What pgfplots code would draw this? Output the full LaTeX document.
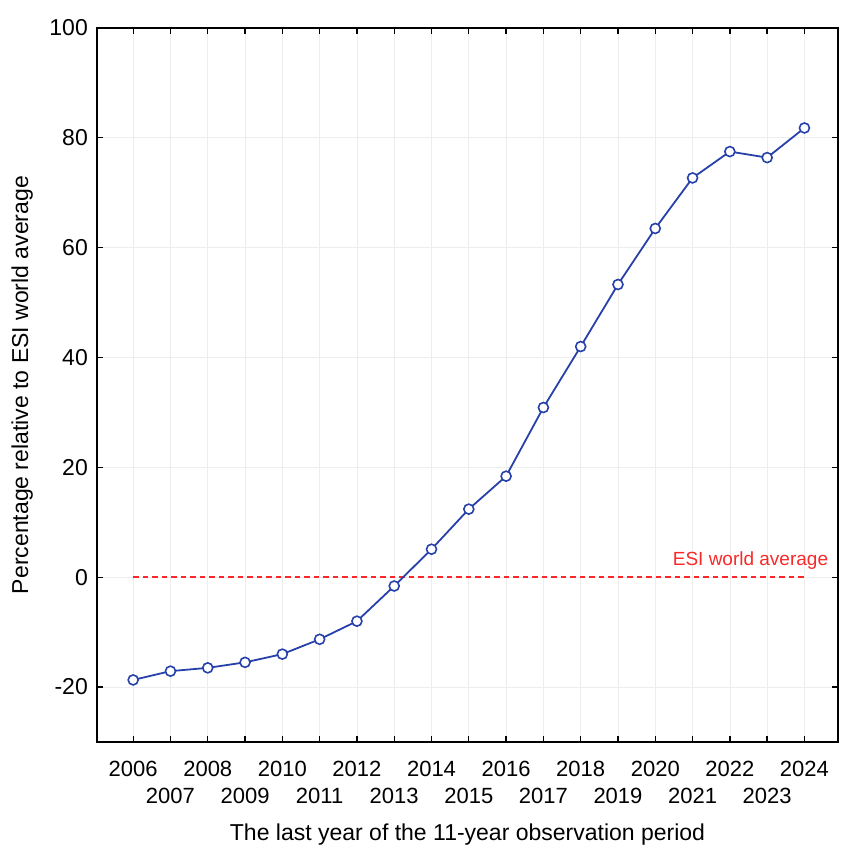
\documentclass[border=0pt]{standalone}
\usepackage{pgfplots}
\pgfplotsset{compat=1.18}
\usepackage{fontspec}
\setmainfont{Liberation Sans}
\definecolor{lineblue}{RGB}{40,65,170}
\definecolor{esired}{RGB}{250,40,40}
\begin{document}
\begin{tikzpicture}
\begin{axis}[name=ax, scale only axis, width=741pt, height=714pt,
  xmin=2005.03, xmax=2024.9, ymin=-30, ymax=100,
  xtick={2006,2008,...,2024},
  extra x ticks={2007,2009,...,2023},
  extra x tick style={grid=major, xticklabel style={yshift=-27pt}},
  ytick={-20,0,...,100},
  /pgf/number format/assume math mode=true,
  /pgf/number format/1000 sep={},
  tick align=inside, tick pos=both, xticklabel pos=lower, yticklabel pos=left,
  major tick length=6pt,
  grid=major, grid style={black!7, line width=0.7pt},
  axis line style={line width=1.3pt},
  every tick/.style={black, line width=1.3pt},
  xticklabel style={font=\fontsize{22}{26}\selectfont, inner sep=0pt, yshift=-19pt},
  yticklabel style={font=\fontsize{23}{26}\selectfont, inner sep=0pt, xshift=-9pt},
  xlabel={The last year of the 11-year observation period},
  ylabel={Percentage relative to ESI world average},
  xlabel style={font=\fontsize{23}{27}\selectfont, yshift=-17pt},
  ylabel style={font=\fontsize{23}{27}\selectfont, yshift=13pt},
]
\addplot[esired, line width=1.6pt, dash pattern=on 5.5pt off 4pt] coordinates {(2006,0) (2024,0)};
\node[text=esired, anchor=base east, font=\fontsize{19}{22}\selectfont, inner sep=0pt] at (axis cs:2024.64,2.2) {ESI world average};
\addplot[lineblue, line width=1.8pt, mark=*, mark size=5pt,
  mark options={fill=white, draw=lineblue, line width=1.6pt}] coordinates {
(2006,-18.7) (2007,-17.1) (2008,-16.5) (2009,-15.5) (2010,-14.0)
(2011,-11.3) (2012,-8.0) (2013,-1.6) (2014,5.1) (2015,12.4)
(2016,18.4) (2017,30.9) (2018,42.0) (2019,53.3) (2020,63.5)
(2021,72.7) (2022,77.5) (2023,76.4) (2024,81.8)};
\end{axis}
\path (ax.south west) ++(-97pt,-111pt) rectangle ++(850pt,853pt);
\end{tikzpicture}
\end{document}
